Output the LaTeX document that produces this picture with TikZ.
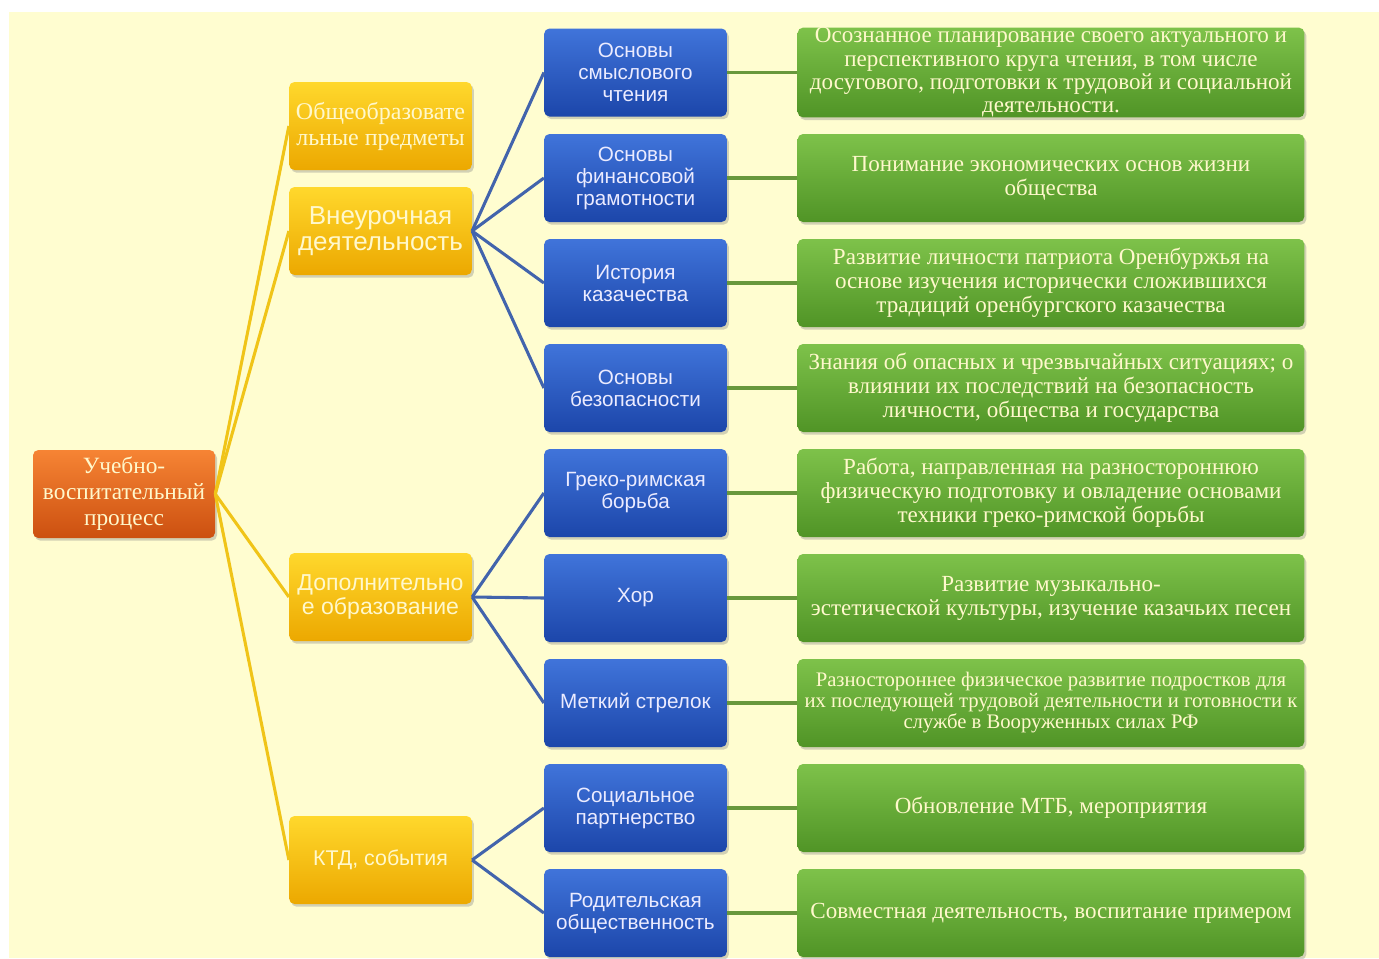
\documentclass[tikz,border=0pt]{standalone}
\usepackage{fontspec}
\setmainfont{Liberation Serif}
\setsansfont{Liberation Sans}
\usepackage{xcolor}
\usetikzlibrary{shadows}

\definecolor{bgcream}{RGB}{255,253,208}
\definecolor{rootTop}{RGB}{246,132,52}
\definecolor{rootBot}{RGB}{204,80,16}
\definecolor{catTop}{RGB}{255,216,44}
\definecolor{catBot}{RGB}{236,168,0}
\definecolor{subTop}{RGB}{64,116,218}
\definecolor{subBot}{RGB}{28,70,170}
\definecolor{descTop}{RGB}{126,194,74}
\definecolor{descBot}{RGB}{80,148,38}
\definecolor{lineY}{RGB}{240,196,24}
\definecolor{lineB}{RGB}{66,100,172}
\definecolor{lineG}{RGB}{104,152,60}
\definecolor{paletext}{RGB}{255,248,204}

\tikzset{
  box/.style={rounded corners=4pt, align=center, inner sep=1pt,
    drop shadow={opacity=0.35, shadow xshift=1.5pt, shadow yshift=-2pt}},
  rootbox/.style={box, top color=rootTop, bottom color=rootBot,
    minimum width=136.5pt, minimum height=66pt, text=paletext,
    font=\fontsize{17.5}{19.5}\selectfont},
  catbox/.style={box, top color=catTop, bottom color=catBot,
    minimum width=137pt, minimum height=66pt, text=paletext},
  subbox/.style={box, top color=subTop, bottom color=subBot,
    minimum width=137pt, minimum height=66pt, text=white!92!blue,
    font=\sffamily\fontsize{15.5}{16.5}\selectfont},
  descbox/.style={box, top color=descTop, bottom color=descBot,
    minimum width=380pt, minimum height=66pt, text=paletext,
    font=\fontsize{17.3}{18}\selectfont},
  linkY/.style={draw=lineY, line width=2.3pt},
  linkB/.style={draw=lineB, line width=2.3pt},
  linkG/.style={draw=lineG, line width=2.3pt}
}

\begin{document}
\begin{tikzpicture}[x=0.75pt,y=0.75pt,yscale=-1,xscale=1]
\useasboundingbox (0,0) rectangle (1379,958);

% background
\fill [bgcream] (9,12) rectangle (1379,958);

% root
\node [rootbox] (root) at (124,494) {Учебно-\\воспитательный\\процесс};

% categories
\node [catbox, font=\fontsize{18}{19.5}\selectfont] (gen) at (380.5,126) {Общеобразовате\\льные предметы};
\node [catbox, font=\sffamily\fontsize{19.5}{19.5}\selectfont] (extra) at (380.5,231) {Внеурочная\\деятельность};
\node [catbox, font=\sffamily\fontsize{17.3}{18}\selectfont] (addit) at (380.5,597) {Дополнительно\\е образование};
\node [catbox, font=\sffamily\fontsize{16}{18}\selectfont] (ktd) at (380.5,860) {КТД, события};

% courses
\node [subbox] (read) at (635.5,72.5) {Основы\\смыслового\\чтения};
\node [subbox] (fin) at (635.5,178) {Основы\\финансовой\\грамотности};
\node [subbox] (hist) at (635.5,283) {История\\казачества};
\node [subbox] (safe) at (635.5,388) {Основы\\безопасности};
\node [subbox] (wrest) at (635.5,493) {Греко-римская\\борьба};
\node [subbox] (choir) at (635.5,598) {Хор};
\node [subbox] (shoot) at (635.5,703) {Меткий стрелок};
\node [subbox] (partn) at (635.5,808) {Социальное\\партнерство};
\node [subbox] (parent) at (635.5,913) {Родительская\\общественность};

% descriptions
\node [descbox, inner ysep=0pt, font=\fontsize{17.3}{17.5}\selectfont] (dread) at (1051,72.5) {Осознанное планирование своего актуального и\\перспективного круга чтения, в том числе\\досугового, подготовки к трудовой и социальной\\деятельности.};
\node [descbox] (dfin) at (1051,178) {Понимание экономических основ жизни\\общества};
\node [descbox] (dhist) at (1051,283) {Развитие личности патриота Оренбуржья на\\основе изучения исторически сложившихся\\традиций оренбургского казачества};
\node [descbox] (dsafe) at (1051,388) {Знания об опасных и чрезвычайных ситуациях; о\\влиянии их последствий на безопасность\\личности, общества и государства};
\node [descbox] (dwrest) at (1051,493) {Работа, направленная на разностороннюю\\физическую подготовку и овладение основами\\техники греко-римской борьбы};
\node [descbox] (dchoir) at (1051,598) {Развитие музыкально-\\эстетической культуры, изучение казачьих песен};
\node [descbox, font=\fontsize{15.5}{15.75}\selectfont] (dshoot) at (1051,703) {Разностороннее физическое развитие подростков для\\их последующей трудовой деятельности и готовности к\\службе в Вооруженных силах РФ};
\node [descbox] (dpartn) at (1051,808) {Обновление МТБ, мероприятия};
\node [descbox] (dparent) at (1051,913) {Совместная деятельность, воспитание примером};

% root to categories
\draw [linkY] (root.east) -- (gen.west);
\draw [linkY] (root.east) -- (extra.west);
\draw [linkY] (root.east) -- (addit.west);
\draw [linkY] (root.east) -- (ktd.west);

% categories to courses
\draw [linkB] (extra.east) -- (read.west);
\draw [linkB] (extra.east) -- (fin.west);
\draw [linkB] (extra.east) -- (hist.west);
\draw [linkB] (extra.east) -- (safe.west);
\draw [linkB] (addit.east) -- (wrest.west);
\draw [linkB] (addit.east) -- (choir.west);
\draw [linkB] (addit.east) -- (shoot.west);
\draw [linkB] (ktd.east) -- (partn.west);
\draw [linkB] (ktd.east) -- (parent.west);

% courses to descriptions
\draw [linkG] (read) -- (dread);
\draw [linkG] (fin) -- (dfin);
\draw [linkG] (hist) -- (dhist);
\draw [linkG] (safe) -- (dsafe);
\draw [linkG] (wrest) -- (dwrest);
\draw [linkG] (choir) -- (dchoir);
\draw [linkG] (shoot) -- (dshoot);
\draw [linkG] (partn) -- (dpartn);
\draw [linkG] (parent) -- (dparent);

\end{tikzpicture}
\end{document}
